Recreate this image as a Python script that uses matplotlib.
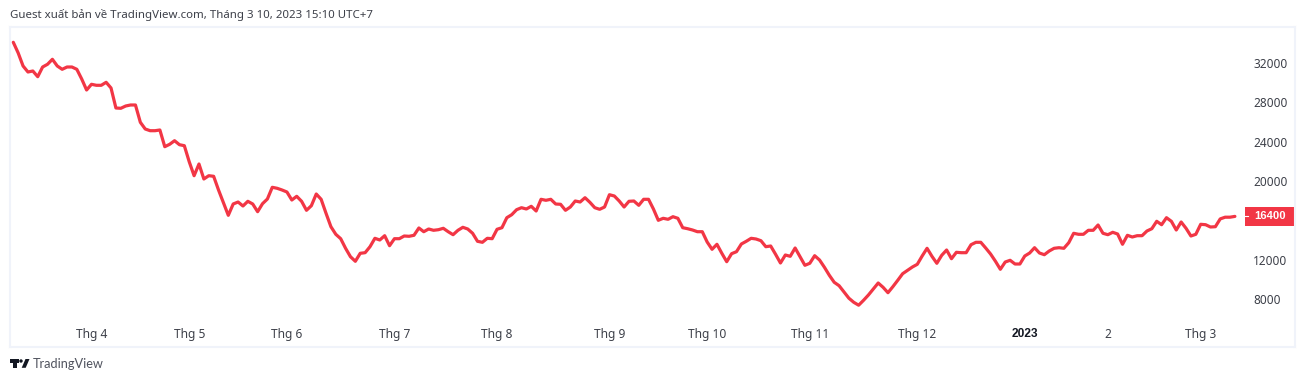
import matplotlib.pyplot as plt
from matplotlib.patches import Polygon, Rectangle, Circle

plt.rcParams['font.family'] = ['Noto Sans', 'DejaVu Sans']

closes = [
    34105, 33020, 31695, 31085, 31186, 30607, 31593, 31868, 32376, 31695,
    31359, 31593, 31593, 31359, 30373, 29254, 29834, 29732, 29732, 30037,
    29457, 27424, 27393, 27627, 27729, 27729, 25969, 25288, 25115, 25115,
    25186, 23488, 23732, 24098, 23691, 23590, 21962, 20538, 21728, 20203,
    20538, 20478, 19084, 17793, 16511, 17660, 17863, 17457, 17935, 17660,
    16877, 17691, 18169, 19359, 19257, 19084, 18881, 18067, 18443, 17935,
    17020, 17487, 18677, 18138, 16715, 15352, 14579, 14132, 13155, 12301,
    11833, 12647, 12708, 13318, 14172, 14000, 14437, 13419, 14132, 14132,
    14406, 14376, 14478, 15220, 14843, 15118, 14986, 15047, 15189, 14843,
    14538, 14986, 15290, 15118, 14681, 13867, 13765, 14172, 14132, 15088,
    15250, 16267, 16572, 17081, 17284, 17152, 17426, 16948, 18138, 18037,
    18138, 17660, 17630, 17020, 17355, 17965, 17863, 18301, 17833, 17284,
    17121, 17355, 18606, 18474, 17965, 17355, 17935, 17965, 17528, 18138,
    18138, 17152, 16003, 16206, 16104, 16369, 16206, 15250, 15148, 15016,
    14843, 14843, 13796, 13053, 13562, 12647, 11792, 12606, 12810, 13593,
    13867, 14172, 14101, 13928, 13318, 13389, 12545, 11660, 12474, 12341,
    13186, 12301, 11426, 11630, 12403, 11965, 11223, 10410, 9698, 9351,
    8710, 8080, 7663, 7368, 7866, 8406, 9016, 9626, 9189, 8640,
    9250, 9900, 10571, 10917, 11253, 11527, 12372, 13155, 12341, 11630,
    12443, 12982, 12097, 12748, 12708, 12708, 13521, 13765, 13765, 13186,
    12575, 11833, 11020, 11762, 11935, 11558, 11558, 12372, 12677, 13216,
    12677, 12504, 12880, 13155, 13216, 13155, 13725, 14681, 14579, 14579,
    14986, 14986, 15525, 14681, 14538, 14782, 14609, 13562, 14477, 14304,
    14437, 14437, 14914, 15148, 15901, 15555, 16267, 15901, 15016, 15830,
    15189, 14406, 14579, 15596, 15555, 15321, 15352, 16145, 16318, 16318,
    16400,
]
bars = list(range(len(closes)))

month_bars = [16, 36, 56, 78, 99, 122, 142, 163, 185, 207, 224, 243]
month_labels = ['Thg 4', 'Thg 5', 'Thg 6', 'Thg 7', 'Thg 8', 'Thg 9',
                'Thg 10', 'Thg 11', 'Thg 12', '2023', '2', 'Thg 3']
price_ticks = [8000, 12000, 16000, 20000, 24000, 28000, 32000]
price_labels = ['8000', '12000', '', '20000', '24000', '28000', '32000']

W, H = 1305, 382
RED = '#f23645'
FRAME = '#f0f3fa'
TEXT = '#3d4049'

fig = plt.figure(figsize=(W / 100, H / 100), dpi=100)
ax = fig.add_axes([10 / W, 1 - 346.7 / H, 1285 / W, 319.7 / H])

ax.plot(bars, closes, color=RED, linewidth=2.3, solid_joinstyle='round', solid_capstyle='round')

ax.set_xlim(-0.675, 262.3)
ax.set_ylim(3148, 35661)

ax.yaxis.tick_right()
ax.set_yticks(price_ticks)
ax.set_yticklabels(price_labels)
ax.tick_params(axis='y', length=0, pad=-30, labelsize=8.5, labelcolor=TEXT)
ax.set_xticks(month_bars)
ax.set_xticklabels(month_labels)
ax.tick_params(axis='x', length=0, pad=-13.2, labelsize=8.6, labelcolor=TEXT)
year_label = ax.get_xticklabels()[9]
year_label.set_fontfamily('Liberation Sans')
year_label.set_fontweight('bold')
year_label.set_color('#131722')

for s in ax.spines.values():
    s.set_color(FRAME)
    s.set_linewidth(1.5)

# last price tag
tr = ax.get_yaxis_transform()
ax.add_patch(Rectangle((1235 / 1285, closes[-1] - 966), 49 / 1285, 1932, transform=tr,
                       facecolor=RED, edgecolor='none', clip_on=False))
ax.plot([1235 / 1285, 1238 / 1285], [closes[-1], closes[-1]], color='white', linewidth=0.8, transform=tr)
ax.text(1244 / 1285, closes[-1], str(closes[-1]), transform=tr, color='white', fontsize=8.1,
        family='Liberation Sans', fontweight='bold', ha='left', va='center')

fig.text(10 / W, 1 - 15 / H, 'Guest xuất bản về TradingView.com, Tháng 3 10, 2023 15:10 UTC+7',
         fontsize=8.25, color=TEXT, va='center', ha='left')

# logo
logo = fig.add_axes([0, 0, 1, 1], facecolor='none')
logo.set_xlim(0, W)
logo.set_ylim(H, 0)
logo.axis('off')
logo.add_patch(Polygon([(10, 359), (19, 359), (19, 362.5), (16.8, 362.5), (16.8, 367.8),
                        (13.4, 367.8), (13.4, 362.5), (10, 362.5)], color='#131722', lw=0))
logo.add_patch(Circle((21, 361), 1.7, color='#131722', lw=0))
logo.add_patch(Polygon([(25.5, 359), (29.5, 359), (25.7, 367.8), (21.7, 367.8)], color='#131722', lw=0))
logo.text(33, 364.5, 'TradingView', fontsize=9.2, color='#50535e', va='center', ha='left', family='Lato')

fig.savefig('out.png', dpi=100)
